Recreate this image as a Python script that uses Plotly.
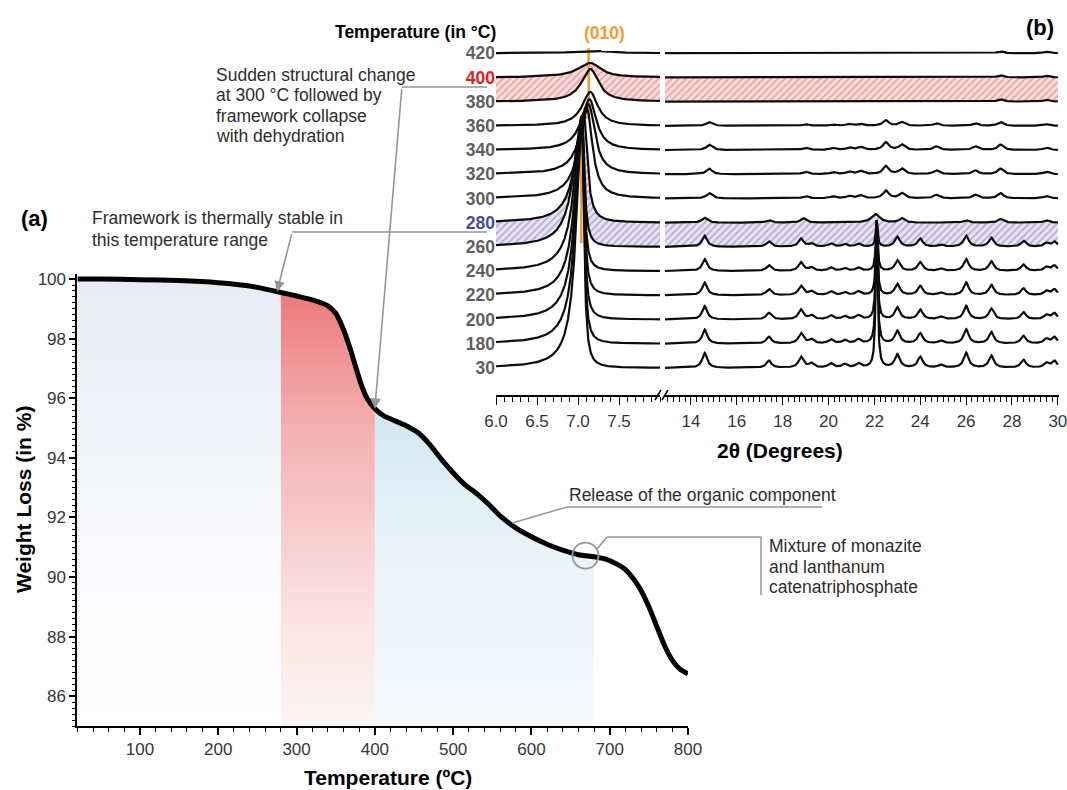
import numpy as np
import plotly.graph_objects as go

FIG_W, FIG_H = 1067, 790
FONT = "Arial, Liberation Sans, Helvetica, sans-serif"
GRAY = "rgb(150,150,150)"
TEXT = "rgb(45,45,45)"
TICK = "rgb(55,55,55)"

# ---------------- (a) thermogravimetric analysis ----------------
TGA_TEMP = [20, 50, 100, 150, 200, 240, 280, 300, 320, 340,
            350, 360, 368, 375, 382, 390, 400, 412, 425, 440,
            455, 470, 485, 500, 515, 530, 545, 560, 580, 600,
            620, 640, 660, 680, 695, 708, 720, 730, 740, 750,
            760, 770, 780, 790, 800]
TGA_WEIGHT = [100.0, 100.0, 99.98, 99.95, 99.88, 99.77, 99.55, 99.43, 99.3, 99.1,
              98.85, 98.3, 97.7, 97.1, 96.5, 96.0, 95.65, 95.4, 95.25, 95.08,
              94.85, 94.45, 93.95, 93.5, 93.1, 92.8, 92.45, 92.05, 91.65, 91.35,
              91.1, 90.9, 90.75, 90.68, 90.6, 90.45, 90.25, 89.95, 89.55, 89.0,
              88.35, 87.7, 87.2, 86.9, 86.75]
STAGES = [20, 280, 400, 680]          # stable / collapse / organic release
MARK_TEMP = 669                        # monazite + catenatriphosphate mixture
Y_MIN, Y_MAX = 85.0, 100.17

# ---------------- (b) variable-temperature PXRD ----------------
XRD_TEMPS = [30, 180, 200, 220, 240, 260, 280, 300, 320, 340, 360, 380, 400, 420]
# (010) reflection: position, height (in stacking units), left / right half widths
P010_POS = [7.05, 7.05, 7.05, 7.05, 7.05, 7.05, 7.07, 7.11, 7.13, 7.14, 7.15, 7.15, 7.15, 7.18]
P010_H = [10.3, 9.4, 8.4, 7.4, 6.4, 5.4, 4.5, 3.7, 2.9, 2.1, 1.4, 1.35, 0.6, 0.1]
P010_GL = [0.085, 0.09, 0.095, 0.10, 0.11, 0.12, 0.12, 0.12, 0.12, 0.12, 0.12, 0.13, 0.18, 0.25]
P010_GR = [0.027, 0.027, 0.028, 0.029, 0.03, 0.032, 0.05, 0.08, 0.09, 0.10, 0.11, 0.12, 0.15, 0.25]

# as-synthesised phase (30-260 degC)
RT_POS = [14.6, 17.4, 18.8, 19.25, 20.1, 20.7, 21.3, 23.0, 24.0, 24.9, 26.0, 27.1, 28.5, 29.5, 29.85]
RT_H = [0.62, 0.30, 0.45, 0.18, 0.18, 0.15, 0.18, 0.55, 0.45, 0.12, 0.62, 0.50, 0.33, 0.20, 0.28]
RT_SCALE = [1.0, 0.95, 0.9, 0.85, 0.8, 0.75]
SPIKE_POS = 22.1
SPIKE_H = [6.1, 5.1, 4.1, 3.1, 2.1, 1.07]
# 280 degC
PH280_POS = [14.6, 17.4, 18.9, 22.05, 23.2, 26.0, 27.5, 29.5]
PH280_H = [0.20, 0.10, 0.18, 0.35, 0.18, 0.10, 0.15, 0.10]
# intermediate phase (300-360 degC)
MID_POS = [14.8, 19.0, 20.2, 20.9, 21.4, 22.5, 23.2, 24.7, 26.4, 27.5, 29.5]
MID_H = [0.22, 0.10, 0.08, 0.10, 0.12, 0.32, 0.22, 0.15, 0.15, 0.22, 0.10]
MID_SCALE = [1.0, 1.05, 1.0, 0.7]
# collapsed framework (380-420 degC)
HT_POS = [27.5, 29.5]
HT_H = [0.10, 0.08]
HT_SCALE = [1.0, 0.9, 0.8]

X_LEFT = (6.0, 8.0)
X_RIGHT = (12.87, 30.05)
X_RIGHT_TICKS = [14, 16, 18, 20, 22, 24, 26, 28, 30]


def px_x(x):
    return x / FIG_W


def px_y(y):
    return 1 - y / FIG_H


def lorentz(x, pos, h, g):
    return h * g * g / ((x - pos) ** 2 + g * g)


def split_lorentz(x, pos, h, gl, gr):
    g = np.where(x < pos, gl, gr)
    return h * g * g / ((x - pos) ** 2 + g * g)


XL = np.linspace(X_LEFT[0], X_LEFT[1], 700)
XR = np.linspace(X_RIGHT[0], 30.0, 1600)


def left_profile(k):
    return k + split_lorentz(XL, P010_POS[k], P010_H[k], P010_GL[k], P010_GR[k])


def right_profile(k):
    y = np.full_like(XR, float(k))
    if k <= 5:
        for p, h in zip(RT_POS, RT_H):
            y += lorentz(XR, p, h * RT_SCALE[k], 0.13)
        y += lorentz(XR, SPIKE_POS, SPIKE_H[k], 0.05)
    elif k == 6:
        for p, h in zip(PH280_POS, PH280_H):
            y += lorentz(XR, p, h, 0.22 if abs(p - 22.05) < 0.01 else 0.14)
    elif k <= 10:
        for p, h in zip(MID_POS, MID_H):
            y += lorentz(XR, p, h * MID_SCALE[k - 7], 0.15)
    else:
        for p, h in zip(HT_POS, HT_H):
            y += lorentz(XR, p, h * HT_SCALE[k - 11], 0.15)
    return y


fig = go.Figure()

# ---- (a) gradient-shaded stages under the TGA curve ----
STAGE_SCALES = [
    [[0, "rgb(255,255,255)"], [0.5, "rgb(247,248,251)"], [1, "rgb(232,235,244)"]],
    [[0, "rgb(253,246,246)"], [0.29, "rgb(250,222,222)"], [0.667, "rgb(244,176,178)"], [1, "rgb(236,116,118)"]],
    [[0, "rgb(246,250,253)"], [0.4, "rgb(232,243,249)"], [0.7, "rgb(212,232,243)"], [1, "rgb(198,224,240)"]],
]
for (t0, t1), scale in zip(zip(STAGES[:-1], STAGES[1:]), STAGE_SCALES):
    idx = [i for i, t in enumerate(TGA_TEMP) if t0 <= t <= t1]
    xs = [TGA_TEMP[i] for i in idx] + [t1, t0]
    ys = [TGA_WEIGHT[i] for i in idx] + [Y_MIN, Y_MIN]
    fig.add_trace(go.Scatter(
        x=xs, y=ys, mode="lines", line=dict(width=0), fill="toself",
        fillgradient=dict(type="vertical", colorscale=scale, start=Y_MIN, stop=100),
        hoverinfo="skip", showlegend=False))

fig.add_trace(go.Scatter(
    x=TGA_TEMP, y=TGA_WEIGHT, mode="lines",
    line=dict(color="black", width=5, shape="spline", smoothing=0.6),
    hoverinfo="skip", showlegend=False))

# ---- (b) hatched bands between selected patterns ----
BANDS = [(11, 12, "rgb(220,105,105)", "rgb(251,222,222)"),
         (5, 6, "rgb(140,118,178)", "rgb(233,227,243)")]
for lo, hi, fg, bg in BANDS:
    for xs, prof, xa in ((XL, left_profile, "x2"), (XR, right_profile, "x3")):
        fig.add_trace(go.Scatter(x=xs, y=prof(lo), mode="lines", line=dict(width=0),
                                 xaxis=xa, yaxis="y2", hoverinfo="skip", showlegend=False))
        fig.add_trace(go.Scatter(x=xs, y=prof(hi), mode="lines", line=dict(width=0),
                                 fill="tonexty", fillcolor=bg,
                                 fillpattern=dict(shape="/", fgcolor=fg, bgcolor=bg,
                                                  size=5, solidity=0.35),
                                 xaxis=xa, yaxis="y2", hoverinfo="skip", showlegend=False))

# (010) peak-position guide
fig.add_trace(go.Scatter(
    x=[7.13, 7.13, 7.04, 7.04], y=[13.2, 10.35, 10.35, 5.15], mode="lines",
    line=dict(color="rgb(242,155,55)", width=2.5), xaxis="x2", yaxis="y2",
    hoverinfo="skip", showlegend=False))

for k in range(len(XRD_TEMPS)):
    fig.add_trace(go.Scatter(x=XL, y=left_profile(k), mode="lines",
                             line=dict(color="rgb(12,12,12)", width=2.2),
                             xaxis="x2", yaxis="y2", hoverinfo="skip", showlegend=False))
    fig.add_trace(go.Scatter(x=XR, y=right_profile(k), mode="lines",
                             line=dict(color="rgb(12,12,12)", width=2.2),
                             xaxis="x3", yaxis="y2", hoverinfo="skip", showlegend=False))

# ---- axes ----
tickfont = dict(family=FONT, size=17, color=TICK)
label_colors = {400: "rgb(225,35,25)", 280: "rgb(70,72,170)"}
ticktext = [f'<span style="color:{label_colors[t]}">{t}</span>' if t in label_colors else str(t)
            for t in XRD_TEMPS]

fig.update_layout(
    width=FIG_W, height=FIG_H, autosize=False,
    margin=dict(l=0, r=0, t=0, b=0, autoexpand=False),
    paper_bgcolor="white", plot_bgcolor="rgba(0,0,0,0)",
    showlegend=False, hovermode=False,
    font=dict(family=FONT),
    xaxis=dict(domain=[px_x(77.4), px_x(688)], range=[20, 800], anchor="y", automargin=False,
               showgrid=False, zeroline=False, showline=True, linecolor="black", linewidth=2,
               ticks="outside", ticklen=7, tickwidth=1.5, tickcolor="black",
               tick0=0, dtick=100, tickfont=tickfont,
               minor=dict(dtick=20, ticklen=4, tickwidth=1.3, tickcolor="black", ticks="outside")),
    yaxis=dict(domain=[px_y(726), px_y(274)], range=[Y_MIN, Y_MAX], anchor="x", automargin=False,
               showgrid=False, zeroline=False, showline=True, linecolor="black", linewidth=2,
               ticks="outside", ticklen=6, tickwidth=1.5, tickcolor="black",
               tickvals=[86, 88, 90, 92, 94, 96, 98, 100], tickfont=tickfont,
               minor=dict(dtick=0.2, ticklen=3, tickwidth=1.2, tickcolor="black", ticks="outside")),
    xaxis2=dict(domain=[px_x(496), px_x(660)], range=list(X_LEFT), anchor="y2", automargin=False,
                showgrid=False, zeroline=False, showline=True, linecolor="black", linewidth=1.5,
                ticks="outside", ticklen=8, tickwidth=1.4, tickcolor="black",
                tickvals=[6.0, 6.5, 7.0, 7.5], ticktext=["6.0", "6.5", "7.0", "7.5"],
                tickfont=tickfont, ticklabelstandoff=2,
                minor=dict(dtick=0.1, ticklen=5, tickwidth=1.2, tickcolor="black", ticks="outside")),
    xaxis3=dict(domain=[px_x(665), px_x(1059)], range=list(X_RIGHT), anchor="y2", automargin=False,
                showgrid=False, zeroline=False, showline=True, linecolor="black", linewidth=1.5,
                ticks="outside", ticklen=8, tickwidth=1.4, tickcolor="black",
                tickvals=X_RIGHT_TICKS, ticktext=[str(t) for t in X_RIGHT_TICKS],
                tickfont=tickfont, ticklabelstandoff=2, ticklabeloverflow="allow",
                minor=dict(dtick=0.25, tick0=0, ticklen=5, tickwidth=1.1, tickcolor="black", ticks="outside")),
    yaxis2=dict(domain=[px_y(395), px_y(29)], range=[-1.12, 14.0], anchor="x2", automargin=False,
                showgrid=False, zeroline=False, showline=False, ticks="",
                tickvals=list(range(len(XRD_TEMPS))), ticktext=ticktext,
                tickfont=dict(family=FONT, size=17.5, color="rgb(95,95,95)", weight="bold")),
)

# ---- connector lines for the callouts ----
def seg(x0, y0, x1, y1, color=GRAY, width=1.5):
    return dict(type="line", xref="paper", yref="paper",
                x0=px_x(x0), y0=px_y(y0), x1=px_x(x1), y1=px_y(y1),
                line=dict(color=color, width=width))


shapes = [
    seg(402, 87, 487, 87),
    seg(292, 232, 487, 232),
    seg(567, 507, 822, 507), seg(567, 507, 512, 523),
    seg(761, 537, 761, 595), seg(761, 537, 607, 537), seg(607, 537, 597, 549),
    # axis break marks
    seg(655, 400, 661, 390, "black", 1.5), seg(662, 400, 668, 390, "black", 1.5),
    dict(type="circle", xref="x", yref="y", xsizemode="pixel", ysizemode="pixel",
         xanchor=MARK_TEMP, yanchor=float(np.interp(MARK_TEMP, TGA_TEMP, TGA_WEIGHT)),
         x0=-13, x1=13, y0=-13, y1=13, line=dict(color=GRAY, width=1.8)),
]
fig.update_layout(shapes=shapes)


def note(text, x, y, size=17.5, color=TEXT, xanchor="left", yanchor="middle", bold=False, angle=0):
    return dict(text=text, x=px_x(x), y=px_y(y), xref="paper", yref="paper", showarrow=False,
                xanchor=xanchor, yanchor=yanchor, align="left", textangle=angle,
                font=dict(family=FONT, size=size, color=color, weight="bold" if bold else "normal"))


def block(lines, x, y0, step):
    return [note(t, x, y0 + i * step) for i, t in enumerate(lines)]


tip_collapse = (STAGES[2], float(np.interp(STAGES[2], TGA_TEMP, TGA_WEIGHT)))
tip_stable = (275, float(np.interp(275, TGA_TEMP, TGA_WEIGHT)))

annotations = [
    note("(a)", 34, 218, size=22, color="black", xanchor="center", bold=True),
    note("(b)", 1040, 28, size=22, color="black", xanchor="center", bold=True),
    note("Temperature (in °C)", 498, 32, color="black", xanchor="right", bold=True),
    note("(010)", 604, 33, color="rgb(242,155,55)", xanchor="center", bold=True),
    note("2θ (Degrees)", 780, 450, size=21, color="black", xanchor="center", bold=True),
    note("Temperature (ºC)", 388, 777, size=21, color="black", xanchor="center", bold=True),
    note("Weight Loss (in %)", 23, 500, size=21, color="black", xanchor="center", bold=True, angle=-90),
    note("Release of the organic component", 567, 495),
    dict(x=tip_collapse[0], y=tip_collapse[1], xref="x", yref="y", text="",
         showarrow=True, arrowhead=2, arrowsize=1.3, arrowwidth=1.6, arrowcolor=GRAY,
         ax=27, ay=-321, axref="pixel", ayref="pixel"),
    dict(x=tip_stable[0], y=tip_stable[1], xref="x", yref="y", text="",
         showarrow=True, arrowhead=2, arrowsize=1.3, arrowwidth=1.6, arrowcolor=GRAY,
         ax=15, ay=-59, axref="pixel", ayref="pixel"),
]
annotations += block(["Sudden structural change", "at 300 °C followed by",
                      "framework collapse", "with dehydration"], 214, 75, 20.3)
annotations += block(["Framework is thermally stable in", "this temperature range"], 90, 218, 22)
annotations += block(["Mixture of monazite", "and lanthanum", "catenatriphosphate"], 767, 546, 20.5)
fig.update_layout(annotations=annotations)

fig.write_html("out.html", config={"displayModeBar": False})
